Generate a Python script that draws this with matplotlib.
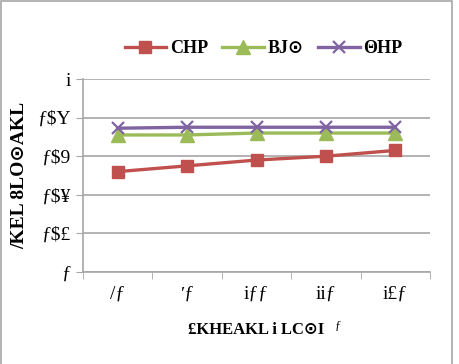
import matplotlib.pyplot as plt
from matplotlib.patches import Rectangle

# category axis and series (label glyphs as they appear in the reference)
categories = ['/ƒ', 'ʹƒ', 'iƒƒ', 'iiƒ', 'i£ƒ']
series_a = [0.52, 0.55, 0.58, 0.60, 0.63]
series_b = [0.71, 0.71, 0.72, 0.72, 0.72]
series_c = [0.745, 0.75, 0.75, 0.75, 0.75]
series_names = ['CHP', 'BJ⊙', 'ΘHP']
y_ticks = [0, 0.2, 0.4, 0.6, 0.8, 1.0]
y_tick_labels = ['ƒ', 'ƒ$£', 'ƒ$¥', 'ƒ$9', 'ƒ$Y', 'i']
x_title = '£KHEAKL i LC⊙I'
x_title_sup = 'ƒ'
y_title = '/KEL 8LO⊙AKL'

fam = ['Liberation Serif', 'DejaVu Sans']

fig = plt.figure(figsize=(4.6, 3.64), dpi=100)
fig.patches.append(Rectangle((1 / 460, -0.01), 451 / 460, 1 - 1 / 364 + 0.01,
                             transform=fig.transFigure, fill=False,
                             edgecolor='#a6a6a6', linewidth=1.2))
ax = fig.add_axes([83 / 460, 1 - 272 / 364, 347 / 460, 193 / 364])

x = list(range(len(categories)))
ax.plot(x, series_a, color='#C0504D', lw=2.4, marker='s', ms=9,
        label=series_names[0])
ax.plot(x, series_b, color='#9BBB59', lw=2.4, marker='^', ms=10,
        label=series_names[1])
ax.plot(x, series_c, color='#8064A2', lw=2.4, marker='x', ms=9, mew=1.6,
        label=series_names[2])

ax.set_xlim(-0.5, len(categories) - 0.5)
ax.set_ylim(0, 1)
ax.set_yticks(y_ticks)
ax.set_yticklabels(y_tick_labels, family=fam, fontsize=14)
ax.set_xticks(x)
ax.set_xticklabels(categories, family=fam, fontsize=14)
ax.set_xticks([i - 0.5 for i in range(len(categories) + 1)], minor=True)
ax.tick_params(axis='x', which='major', length=0, pad=10)
ax.tick_params(axis='x', which='minor', length=5, color='#a6a6a6')
ax.tick_params(axis='y', length=5, color='#a6a6a6', pad=4)
ax.grid(axis='y', color='#a6a6a6', lw=1.2)
ax.set_axisbelow(True)
for s in ['top', 'right']:
    ax.spines[s].set_visible(False)
for s in ['left', 'bottom']:
    ax.spines[s].set_color('#a6a6a6')
    ax.spines[s].set_linewidth(1.2)

ax.set_xlabel(x_title, family=fam, fontsize=12, fontweight='bold',
              labelpad=14)
ax.text(0.725, -0.28, x_title_sup, transform=ax.transAxes, family=fam,
        fontsize=9, ha='left', va='center')
ax.set_ylabel(y_title, family=fam, fontsize=14, fontweight='bold',
              labelpad=6)

ax.legend(loc='lower center', bbox_to_anchor=(0.52, 1.03), ncol=3,
          frameon=False, prop={'family': fam, 'size': 13, 'weight': 'bold'},
          handlelength=2.3, columnspacing=0.8, handletextpad=0.2)

fig.savefig('out.png', dpi=100)
